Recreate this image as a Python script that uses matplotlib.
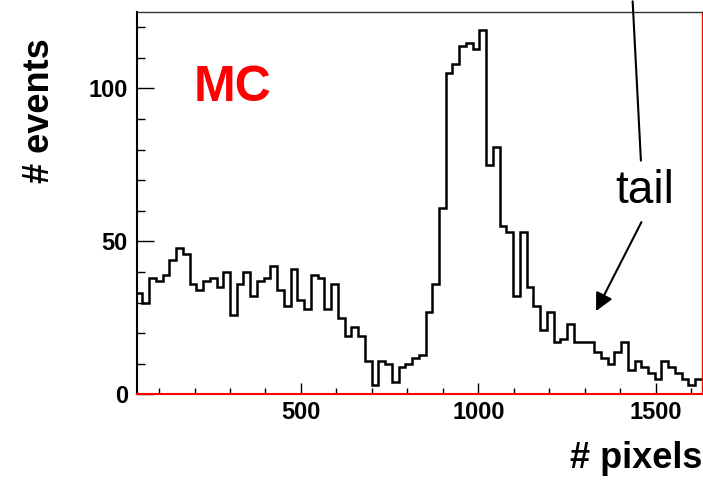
import numpy as np
import matplotlib
matplotlib.use("Agg")
import matplotlib.pyplot as plt
from matplotlib.ticker import MultipleLocator

# --- DATOS: histograma MC, bins de 19 px desde 34 ---
bin_inicio = 34
bin_ancho = 19
eventos = [33, 30, 38, 37, 39, 44, 48, 46, 36, 34,
           37, 38, 35, 40, 26, 36, 40, 32, 37, 38,
           42, 34, 29, 41, 31, 28, 39, 38, 28, 36,
           25, 19, 22, 19, 11, 3, 11, 10, 4, 9,
           10, 12, 13, 27, 36, 61, 105, 108, 114, 115,
           113, 119, 75, 81, 55, 53, 32, 53, 35, 29,
           21, 27, 17, 18, 23, 17, 17, 17, 14, 12,
           10, 14, 17, 8, 11, 9, 7, 5, 11, 9,
           7, 5, 3, 5]
bordes = bin_inicio + bin_ancho * np.arange(len(eventos) + 1)

x_rango = (38, 1631)
y_rango = (0, 125)

fig = plt.figure(figsize=(7.03, 4.8), dpi=100)
ax = fig.add_axes([0.1949, 0.1785, 0.8041, 0.7965])

ax.stairs(eventos, bordes, baseline=None, color="black", linewidth=1.8)
ax.set_xlim(*x_rango)
ax.set_ylim(*y_rango)

# --- EJES estilo ROOT ---
ax.xaxis.set_major_locator(MultipleLocator(500))
ax.xaxis.set_minor_locator(MultipleLocator(100))
ax.yaxis.set_major_locator(MultipleLocator(50))
ax.yaxis.set_minor_locator(MultipleLocator(10))
ax.tick_params(axis="x", which="major", direction="in", length=8, width=1, pad=5)
ax.tick_params(axis="x", which="minor", direction="in", length=4.5, width=1)
ax.tick_params(axis="y", which="major", direction="in", length=12, width=1, pad=6.5)
ax.tick_params(axis="y", which="minor", direction="in", length=6, width=1)
for lab in ax.get_xticklabels() + ax.get_yticklabels():
    lab.set_fontfamily("Liberation Sans")
    lab.set_fontweight("bold")
    lab.set_fontsize(17)

ax.spines["left"].set_linewidth(1.5)
ax.spines["left"].set_color("black")
ax.spines["top"].set_linewidth(1)
ax.spines["top"].set_color("#333333")
ax.spines["bottom"].set_linewidth(1.5)
ax.spines["bottom"].set_color("red")
ax.spines["right"].set_linewidth(1)
ax.spines["right"].set_color("red")

# --- TEXTOS ---
fig.text(0.999, 0.025, "# pixels", ha="right", va="baseline",
         fontsize=26, fontweight="bold", family="Liberation Sans")
fig.text(0.056, 1 - 38 / 480, "# events", ha="center", va="top", rotation=90,
         fontsize=26, fontweight="bold", family="Liberation Sans")
ax.text(306, 100, "MC", ha="center", va="center", color="red",
        fontsize=36, fontweight="bold", family="Liberation Sans")
ax.text(1468, 62.7, "tail", ha="center", va="baseline",
        fontsize=33, family="Liberation Sans")

# flechas
ax.annotate("", xy=(1434.7, 128.5), xytext=(1458, 76.4), annotation_clip=False,
            arrowprops=dict(arrowstyle="-", lw=1.5, color="black",
                            shrinkA=0, shrinkB=0))
ax.annotate("", xy=(1331.4, 27.2), xytext=(1459.5, 56.3), annotation_clip=False,
            arrowprops=dict(arrowstyle="-|>", lw=1.5, color="black",
                            mutation_scale=27, shrinkA=0, shrinkB=0))

fig.savefig("out.png", dpi=100)
